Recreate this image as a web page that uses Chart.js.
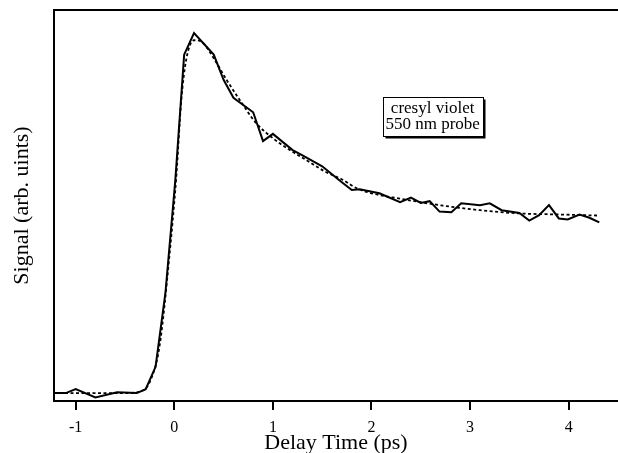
<!DOCTYPE html>
<html>
<head>
<meta charset="utf-8">
<script src="https://cdn.jsdelivr.net/npm/chart.js@4.4.1/dist/chart.umd.min.js"></script>
<style>
	html, body { margin: 0; padding: 0; background: #fff; }
	#wrap { width: 618px; height: 453px; }
</style>
</head>
<body>
<div id="wrap"><canvas id="chart-decay" width="618" height="453"></canvas></div>
<script>
// Measured transient (solid)
const DATA_T = [-1.22, -1.1, -1.0, -0.8, -0.58, -0.38, -0.29, -0.19, -0.09, 0.01, 0.1, 0.2, 0.4, 0.5, 0.6, 0.8, 0.9, 1.0, 1.2, 1.3, 1.5, 1.68, 1.8, 1.88, 2.08, 2.29, 2.4, 2.5, 2.59, 2.69, 2.81, 2.91, 3.1, 3.2, 3.32, 3.5, 3.6, 3.7, 3.8, 3.9, 3.99, 4.11, 4.21, 4.31];
const DATA_SIGNAL = [0, 0, 0.011, -0.012, 0.002, 0, 0.011, 0.073, 0.278, 0.59, 0.94, 1.0, 0.94, 0.87, 0.82, 0.78, 0.7, 0.72, 0.675, 0.66, 0.63, 0.59, 0.564, 0.566, 0.555, 0.53, 0.543, 0.528, 0.533, 0.504, 0.502, 0.527, 0.522, 0.527, 0.508, 0.5, 0.479, 0.494, 0.522, 0.485, 0.482, 0.496, 0.487, 0.474];

// Fit (dashed)
const FIT_T = [-1.22, -0.5, -0.35, -0.25, -0.15, -0.05, 0.02, 0.07, 0.12, 0.2, 0.28, 0.4, 0.53, 0.65, 0.83, 1.0, 1.2, 1.34, 1.53, 1.71, 1.85, 2.0, 2.29, 2.69, 3.1, 3.5, 3.91, 4.31];
const FIT_SIGNAL = [0, 0, 0.004, 0.03, 0.13, 0.38, 0.6, 0.81, 0.925, 0.98, 0.975, 0.93, 0.87, 0.82, 0.75, 0.708, 0.67, 0.647, 0.615, 0.592, 0.569, 0.555, 0.54, 0.522, 0.508, 0.499, 0.496, 0.493];

const X_TICKS = [-1, 0, 1, 2, 3, 4];
const LABEL_LINES = ["cresyl violet", "550 nm probe"];

const SERIF = "'Liberation Serif', 'Times New Roman', serif";
const WRAPPER = document.getElementById("chart-decay");

const toPoints = (xs, ys) => xs.map((x, i) => ({ x, y: ys[i] }));

// top frame line + label box
const frameAndLabel = {
	id: "frameAndLabel",
	afterDraw(chart) {
		const { ctx, chartArea, scales } = chart;
		ctx.save();
		ctx.strokeStyle = "#000";
		ctx.lineWidth = 2;
		ctx.beginPath();
		ctx.moveTo(chartArea.left - 1, chartArea.top);
		ctx.lineTo(chartArea.right, chartArea.top);
		ctx.stroke();

		const cx = scales.x.getPixelForValue(2.62);
		const cy = scales.y.getPixelForValue(0.767);
		const w = 100, h = 39;
		const x0 = Math.round(cx - w / 2) + 0.5, y0 = Math.round(cy - h / 2) + 0.5;
		ctx.fillStyle = "#fff";
		ctx.fillRect(x0, y0, w, h);
		ctx.lineWidth = 1;
		ctx.strokeRect(x0, y0, w, h);
		// shadow edge
		ctx.lineWidth = 2;
		ctx.beginPath();
		ctx.moveTo(x0 + w + 1, y0 + 2);
		ctx.lineTo(x0 + w + 1, y0 + h + 1);
		ctx.lineTo(x0 + 2, y0 + h + 1);
		ctx.stroke();

		ctx.fillStyle = "#000";
		ctx.font = "17px " + SERIF;
		ctx.textAlign = "center";
		ctx.textBaseline = "middle";
		ctx.fillText(LABEL_LINES[0], cx, y0 + 11);
		ctx.fillText(LABEL_LINES[1], cx, y0 + 27);
		ctx.restore();
	},
};

const DATA = {
	datasets: [
		{
			data: toPoints(FIT_T, FIT_SIGNAL),
			borderColor: "#000",
			borderWidth: 1.8,
			borderDash: [3, 2.5],
			pointRadius: 0,
			cubicInterpolationMode: "monotone",
		},
		{
			data: toPoints(DATA_T, DATA_SIGNAL),
			borderColor: "#000",
			borderWidth: 2,
			pointRadius: 0,
			tension: 0,
		},
	],
};

const CONFIG = {
	type: "line",
	data: DATA,
	plugins: [frameAndLabel],
	options: {
		responsive: false,
		animation: false,
		layout: { padding: { top: 10, right: 0, left: 0, bottom: 0 } },
		plugins: {
			legend: { display: false },
			tooltip: { enabled: false },
		},
		scales: {
			x: {
				type: "linear",
				min: -1.22,
				max: 4.5,
				afterBuildTicks: (scale) => {
					scale.ticks = X_TICKS.map((value) => ({ value }));
				},
				afterFit: (scale) => {
					scale.height = 52;
				},
				grid: {
					display: true,
					drawOnChartArea: false,
					drawTicks: true,
					tickLength: 9,
					color: "#000",
					lineWidth: 2,
				},
				border: { display: true, color: "#000", width: 2 },
				ticks: {
					color: "#000",
					padding: 8,
					maxRotation: 0,
					font: { family: SERIF, size: 16, lineHeight: 1.2 },
					callback: (v) => String(v),
				},
				title: {
					display: true,
					text: "Delay Time (ps)",
					color: "#000",
					padding: { top: 0, bottom: 0 },
					font: { family: SERIF, size: 22, lineHeight: 0.9 },
				},
			},
			y: {
				min: -0.022,
				max: 1.064,
				afterFit: (scale) => {
					scale.width = 54;
				},
				grid: { display: false, drawTicks: false },
				border: { display: true, color: "#000", width: 2 },
				ticks: { display: false },
				title: {
					display: true,
					text: "Signal (arb. uints)",
					color: "#000",
					padding: { top: 11, bottom: 0 },
					font: { family: SERIF, size: 22, lineHeight: 1 },
				},
			},
		},
	},
};

if (WRAPPER) {
	new Chart(WRAPPER, CONFIG);
}
</script>
</body>
</html>
